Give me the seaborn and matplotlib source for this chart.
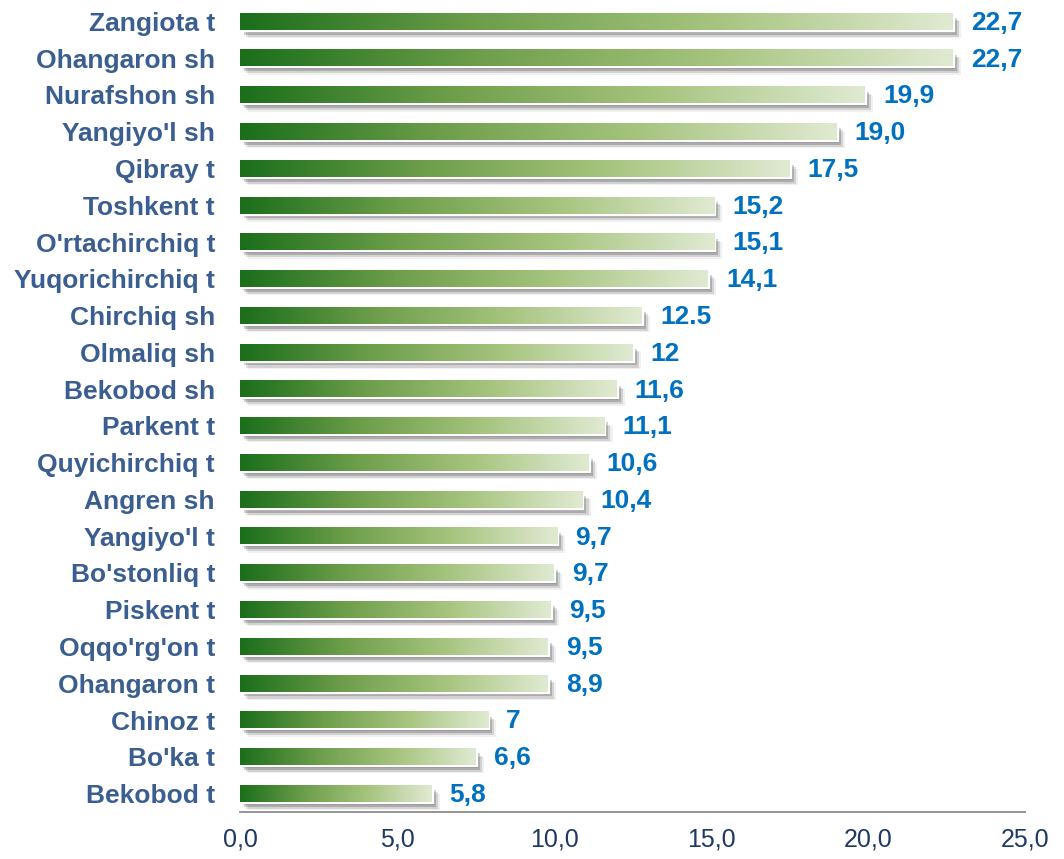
import numpy as np
import pandas as pd
import seaborn as sns
import matplotlib.pyplot as plt
import matplotlib.patheffects as pe
from matplotlib.colors import LinearSegmentedColormap

districts = ["Zangiota t", "Ohangaron sh", "Nurafshon sh", "Yangiyo'l sh", "Qibray t",
             "Toshkent t", "O'rtachirchiq t", "Yuqorichirchiq t", "Chirchiq sh", "Olmaliq sh",
             "Bekobod sh", "Parkent t", "Quyichirchiq t", "Angren sh", "Yangiyo'l t",
             "Bo'stonliq t", "Piskent t", "Oqqo'rg'on t", "Ohangaron t", "Chinoz t",
             "Bo'ka t", "Bekobod t"]
# bar lengths as drawn in the picture
bar_values = [22.7, 22.7, 19.9, 19.0, 17.5, 15.1, 15.1, 14.9, 12.8, 12.5, 12.0, 11.6,
              11.1, 10.9, 10.1, 10.0, 9.9, 9.8, 9.8, 7.9, 7.5, 6.1]
# data labels as printed next to the bars
value_labels = ["22,7", "22,7", "19,9", "19,0", "17,5", "15,2", "15,1", "14,1", "12.5", "12",
                "11,6", "11,1", "10,6", "10,4", "9,7", "9,7", "9,5", "9,5", "8,9", "7", "6,6", "5,8"]
x_ticks = [0, 5, 10, 15, 20, 25]
x_tick_labels = ["0,0", "5,0", "10,0", "15,0", "20,0", "25,0"]

df = pd.DataFrame({"district": districts, "value": bar_values})

sns.set_style("white")
plt.rcParams["font.family"] = ["Liberation Sans", "DejaVu Sans"]

fig = plt.figure(figsize=(10.64, 8.59), dpi=100)
ax = fig.add_axes([240 / 1064, 47 / 859, 785 / 1064, 809 / 859])

sns.barplot(data=df, x="value", y="district", orient="h", width=0.45,
            color="white", ax=ax)

cmap = LinearSegmentedColormap.from_list("greens", ["#1b6e1b", "#6d9e4a", "#a6c47e", "#e0ead2"])
grad = np.linspace(0, 1, 256).reshape(1, -1)

# soft drop shadow, built from a few offset layers
shadow = [
    pe.SimplePatchShadow(offset=(1.5, -2), shadow_rgbFace="#000000", alpha=0.12),
    pe.SimplePatchShadow(offset=(3, -3.5), shadow_rgbFace="#000000", alpha=0.18),
    pe.SimplePatchShadow(offset=(4.5, -5), shadow_rgbFace="#000000", alpha=0.12),
    pe.SimplePatchShadow(offset=(6, -6), shadow_rgbFace="#000000", alpha=0.06),
    pe.Normal(),
]

for patch, lab in zip(ax.patches, value_labels):
    x0, y0 = patch.get_x(), patch.get_y()
    w, h = patch.get_width(), patch.get_height()
    patch.set_facecolor("white")
    patch.set_edgecolor("white")
    patch.set_linewidth(3)
    patch.set_zorder(2)
    patch.set_path_effects(shadow)
    ax.imshow(grad, cmap=cmap, aspect="auto", extent=[x0, x0 + w, y0 + h, y0],
              zorder=3, interpolation="bicubic")
    ax.annotate(lab, xy=(x0 + w, y0 + h / 2), xytext=(13, -1), textcoords="offset points",
                ha="left", va="center", fontsize=19, fontweight="bold", color="#0070c0")

ax.set_xlim(0, 25)
ax.set_ylim(len(districts) - 0.5, -0.5)
ax.set_xticks(x_ticks)
ax.set_xticklabels(x_tick_labels, fontsize=18, color="#1f3864")
ax.set_yticklabels(districts, fontsize=19, fontweight="bold", color="#3b5e91")
ax.set_xlabel("")
ax.set_ylabel("")
ax.tick_params(axis="x", direction="out", length=6, width=1.3, color="#8c8c8c", pad=5)
ax.tick_params(axis="y", length=0, pad=18)
for side in ["top", "right", "left"]:
    ax.spines[side].set_visible(False)
ax.spines["bottom"].set_color("#8c8c8c")
ax.spines["bottom"].set_linewidth(1.3)
ax.grid(False)

fig.savefig("out.png", dpi=100)
